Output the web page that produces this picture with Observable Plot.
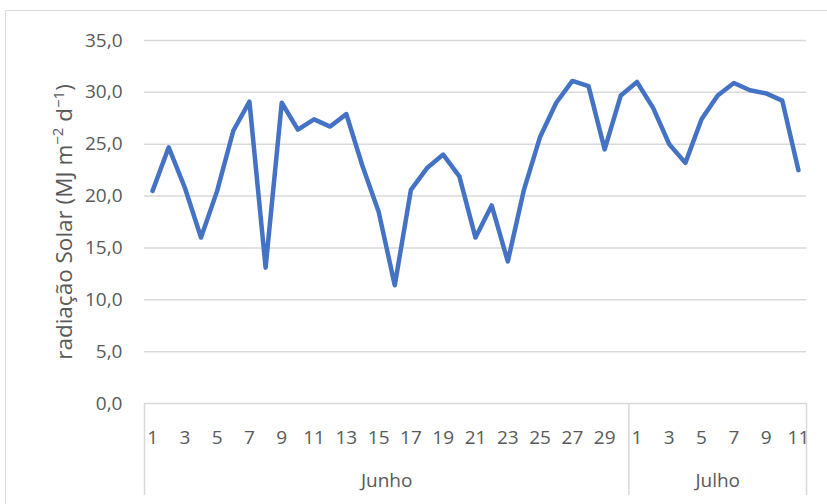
<!DOCTYPE html>
<html>
<head>
<meta charset="utf-8">
<script src="https://cdn.jsdelivr.net/npm/d3@7"></script>
<script src="https://cdn.jsdelivr.net/npm/@observablehq/plot@0.6"></script>
<style>
  html, body { margin: 0; padding: 0; background: #fff; }
  #wrap { position: relative; width: 827px; height: 504px; overflow: hidden; }
  #frame { position: absolute; left: 5px; top: 10px; width: 900px; height: 600px;
           border-left: 1.5px solid #d9d9d9; border-top: 1.5px solid #d9d9d9; box-sizing: border-box; }
  #chart { position: absolute; left: 0; top: 0; }
</style>
</head>
<body>
<div id="wrap"><div id="frame"></div><div id="chart"></div></div>
<script>
// ---- data ----
const junhoDays = [1,2,3,4,5,6,7,8,9,10,11,12,13,14,15,16,17,18,19,20,21,22,23,24,25,26,27,28,29,30];
const julhoDays = [1,2,3,4,5,6,7,8,9,10,11];
const junhoValues = [20.5, 24.7, 20.8, 16.0, 20.5, 26.3, 29.1, 13.1, 29.0, 26.4,
                     27.4, 26.7, 27.9, 22.9, 18.5, 11.4, 20.6, 22.7, 24.0, 21.9,
                     16.0, 19.1, 13.7, 20.6, 25.7, 29.0, 31.1, 30.6, 24.5, 29.7];
const julhoValues = [31.0, 28.5, 25.0, 23.2, 27.4, 29.7, 30.9, 30.2, 29.9, 29.2, 22.5];
const monthNames = ["Junho", "Julho"];
const yTicks = [0, 5, 10, 15, 20, 25, 30, 35];
// title pieces: [text, isSuperscript]
const yTitleParts = [["radiação Solar (MJ m", false], ["\u22122", true], [" d", false], ["\u22121", true], [")", false]];
const yTitle = yTitleParts.map(p => p[0]).join("");

// ---- build table ----
const rows = [];
junhoDays.forEach((d, i) => rows.push({month: monthNames[0], day: d, value: junhoValues[i]}));
julhoDays.forEach((d, i) => rows.push({month: monthNames[1], day: d, value: julhoValues[i]}));
rows.forEach((r, i) => r.idx = i);

const groups = monthNames.map(m => {
  const idxs = rows.filter(r => r.month === m).map(r => r.idx);
  return {name: m, start: d3.min(idxs), end: d3.max(idxs), center: (d3.min(idxs) + d3.max(idxs)) / 2};
});
const separators = [groups[0].start - 0.5, ...groups.map(g => g.end + 0.5)];

const txt = "#595959";
const font = "'Open Sans', 'Liberation Sans', sans-serif";

const chart = Plot.plot({
  width: 827,
  height: 504,
  marginLeft: 144,
  marginRight: 21,
  marginTop: 40,
  marginBottom: 101,
  style: {fontFamily: font, fontSize: "19px", color: txt, background: "transparent", overflow: "visible"},
  x: {type: "linear", domain: [-0.5, rows.length - 0.5], axis: null},
  y: {domain: [0, 35], axis: null},
  marks: [
    Plot.ruleY(yTicks, {stroke: "#d9d9d9", strokeWidth: 1.5}),
    Plot.axisY(yTicks, {tickSize: 0, tickPadding: 22, fontSize: 19, fill: txt,
      tickFormat: d => d.toFixed(1).replace(".", ","), label: null}),
    Plot.ruleX(separators, {x: d => d, insetTop: 363, insetBottom: -92, stroke: "#d9d9d9", strokeWidth: 1.5}),
    Plot.text(rows.filter(r => r.day % 2 === 1), {x: "idx", text: d => String(d.day),
      frameAnchor: "bottom", lineAnchor: "middle", dy: 34, fill: txt, fontSize: 19}),
    Plot.text(groups, {x: "center", text: "name", frameAnchor: "bottom", lineAnchor: "middle",
      dy: 77, fill: txt, fontSize: 19}),
    Plot.text([yTitle], {frameAnchor: "left", textAnchor: "middle", lineAnchor: "middle",
      dx: -80, rotate: -90, fill: txt, fontSize: 22.5}),
    Plot.lineY(rows, {x: "idx", y: "value", stroke: "#4472C4", strokeWidth: 4.5,
      strokeLinejoin: "round", strokeLinecap: "round"})
  ]
});
document.getElementById("chart").appendChild(chart);

// rebuild title with real superscripts
d3.select(chart).selectAll("text").filter(function() { return this.textContent === yTitle; })
  .each(function() {
    const t = d3.select(this);
    t.text(null);
    yTitleParts.forEach(([s, sup], i) => {
      const ts = t.append("tspan").text(s);
      if (sup) ts.attr("font-size", "15px").attr("dy", "-0.55em");
      else if (i > 0 && yTitleParts[i - 1][1]) ts.attr("dy", "0.38em");
    });
  });
</script>
</body>
</html>
